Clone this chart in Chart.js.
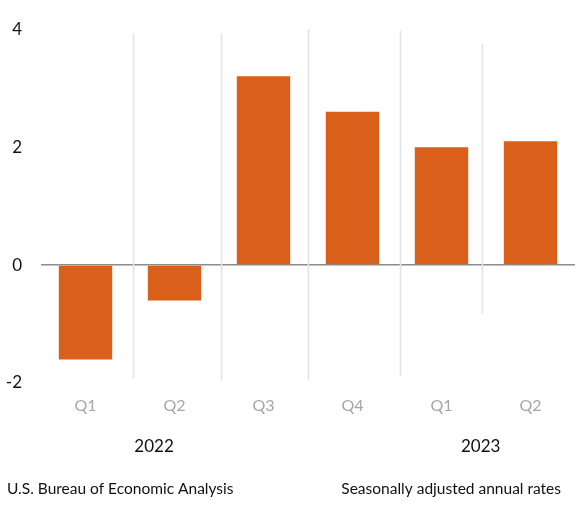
<!DOCTYPE html>
<html>
<head>
<meta charset="utf-8">
<script src="https://cdn.jsdelivr.net/npm/chart.js@4/dist/chart.umd.min.js"></script>
<style>
  html, body { margin: 0; padding: 0; background: #fff; }
  #wrap { width: 584px; height: 509px; }
</style>
</head>
<body>
<div id="wrap"><canvas id="gdp"></canvas></div>
<script>
// real GDP, percent change, quarterly
const quarters = ['Q1', 'Q2', 'Q3', 'Q4', 'Q1', 'Q2'];
const growth = [-1.6, -0.6, 3.2, 2.6, 2.0, 2.1];
const years = ['2022', '2023'];
const yearAt = [0.77, 4.44]; // category position of each year label
const yTicks = [-2, 0, 2, 4];

// separator lines between quarters (top, bottom in axis units)
const sepTop = [3.93, 3.93, 4.0, 3.97, 3.75];
const sepBottom = [-1.92, -1.96, -1.96, -1.88, -0.82];
const sepShift = [3, 2, 0, 3, -4]; // small hand offsets, px

const FONT = 'Lato, "Open Sans", sans-serif';

const extras = {
  id: 'extras',
  beforeDatasetsDraw(chart) {
    const { ctx, scales: { x, y } } = chart;
    ctx.save();
    ctx.strokeStyle = '#e3e3e3';
    ctx.lineWidth = 1.5;
    for (let i = 0; i < sepTop.length; i++) {
      const px = Math.round(x.getPixelForValue(i + 0.5)) + sepShift[i] + 0.5;
      ctx.beginPath();
      ctx.moveTo(px, y.getPixelForValue(sepTop[i]));
      ctx.lineTo(px, y.getPixelForValue(sepBottom[i]));
      ctx.stroke();
    }
    ctx.restore();
  },
  afterDraw(chart) {
    const { ctx, scales: { x } } = chart;
    ctx.save();
    ctx.fillStyle = '#111';
    ctx.textBaseline = 'middle';
    ctx.textAlign = 'center';
    ctx.font = '17px ' + FONT;
    years.forEach((yr, i) => ctx.fillText(yr, x.getPixelForValue(yearAt[i]), 447));
    ctx.font = '15.5px ' + FONT;
    ctx.textAlign = 'left';
    ctx.fillText('U.S. Bureau of Economic Analysis', 7, 489);
    ctx.textAlign = 'right';
    ctx.fillText('Seasonally adjusted annual rates', 561, 489);
    ctx.restore();
  }
};

new Chart('gdp', {
  type: 'bar',
  data: {
    labels: quarters,
    datasets: [{
      data: growth,
      backgroundColor: '#d95f1a',
      categoryPercentage: 1,
      barPercentage: 0.6
    }]
  },
  plugins: [extras],
  options: {
    responsive: true,
    maintainAspectRatio: false,
    animation: false,
    layout: { padding: { top: 28, right: 9, left: 0, bottom: 0 } },
    scales: {
      x: {
        grid: { display: false, drawTicks: false },
        border: { display: false },
        ticks: { color: '#a6a6a6', font: { family: FONT, size: 16 }, padding: 13 },
        afterFit(scale) { scale.height = 126; }
      },
      y: {
        min: -2,
        max: 4,
        afterBuildTicks(scale) { scale.ticks = yTicks.map(v => ({ value: v })); },
        grid: {
          drawTicks: false,
          color: ctx => ctx.tick && ctx.tick.value === 0 ? '#8c8c8c' : 'rgba(0,0,0,0)',
          lineWidth: 1.5
        },
        border: { display: false },
        ticks: { color: '#111', font: { family: FONT, size: 17 }, padding: 19 },
        afterFit(scale) { scale.width = 41; }
      }
    },
    plugins: {
      legend: { display: false },
      tooltip: { enabled: false }
    }
  }
});
</script>
</body>
</html>
